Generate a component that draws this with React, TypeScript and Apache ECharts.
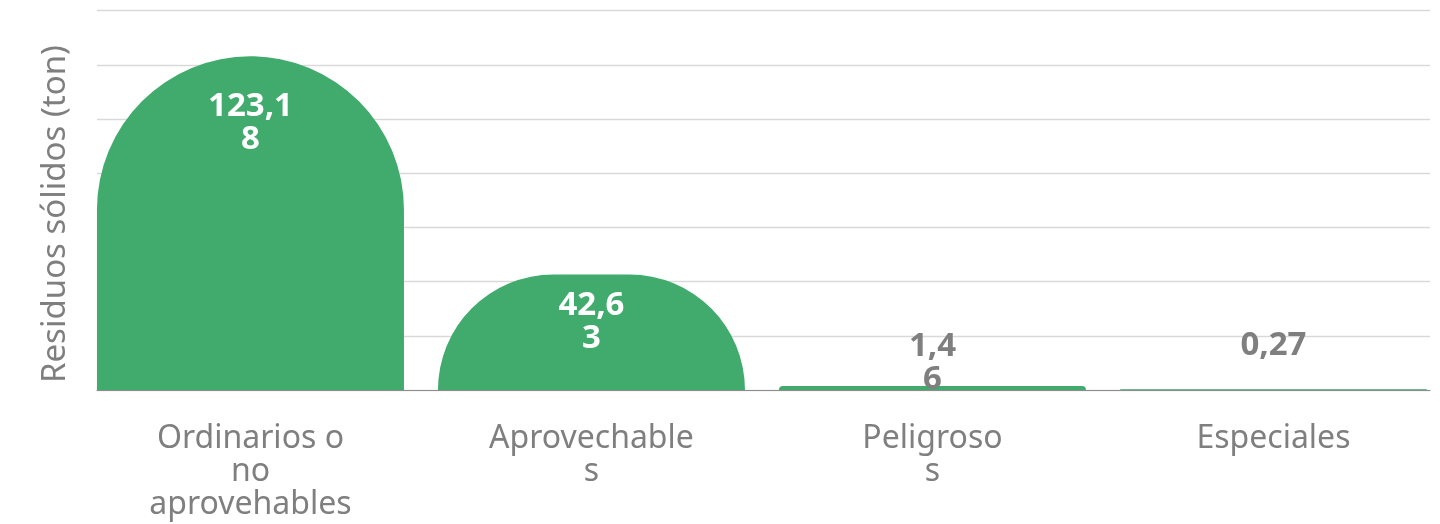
import React, { useEffect, useRef } from "react";
import * as echarts from "echarts";

// Chart data
const categories = [
  "Ordinarios o\nno\naprovehables",
  "Aprovechable\ns",
  "Peligroso\ns",
  "Especiales",
];
const values = [123.18, 42.63, 1.46, 0.27];
// Number of characters kept on the first line of each value label
const labelBreakAt = [5, 4, 3, 0];
const yMin = 0;
const yMax = 140;
const yInterval = 20;
const yTitle = "Residuos sólidos (ton)";

const GREEN = "#41AB6D";
const GREY = "#7F7F7F";
const FONT = "'Noto Sans', sans-serif";

// Vertical placement of each value label relative to the top of its bar
const labelOffsetY = [31, 11, -59, -63];
const labelColor = ["#ffffff", "#ffffff", GREY, GREY];

function formatValue(v: number, i: number): string {
  const s = String(v).replace(".", ",");
  const n = labelBreakAt[i];
  if (!n || n >= s.length) return s;
  return s.slice(0, n) + "\n" + s.slice(n);
}

export default function App() {
  const ref = useRef<HTMLDivElement>(null);

  useEffect(() => {
    if (!ref.current) return;
    const chart = echarts.init(ref.current, undefined, { renderer: "svg" });
    const positions = categories.map((_, i) => i);
    chart.setOption({
      animation: false,
      grid: { left: 97, right: 10, top: 10.7, bottom: 134 },
      xAxis: {
        // categories sit at integer positions; the bars touch the plot edges
        type: "value",
        min: -0.45,
        max: 3.459,
        axisLine: { onZero: true, lineStyle: { color: "#8C8C8C", width: 1 } },
        axisTick: { show: false },
        splitLine: { show: false },
        axisLabel: {
          customValues: positions,
          formatter: (v: number) => categories[Math.round(v)] ?? "",
          color: GREY,
          fontSize: 32,
          lineHeight: 33,
          fontFamily: FONT,
          margin: 29,
          showMinLabel: true,
          showMaxLabel: true,
        },
      },
      yAxis: {
        type: "value",
        min: yMin,
        max: yMax,
        interval: yInterval,
        axisLabel: { show: false },
        axisLine: { show: false },
        axisTick: { show: false },
        splitLine: { lineStyle: { color: "#D9D9D9", width: 1.3 } },
      },
      series: [
        {
          type: "bar",
          barWidth: 307,
          itemStyle: { color: GREEN, borderRadius: [154, 154, 0, 0] },
          label: {
            show: true,
            align: "center",
            verticalAlign: "top",
            fontSize: 33,
            fontWeight: "bold",
            lineHeight: 33,
            fontFamily: FONT,
            formatter: (p: any) => formatValue(p.value[1], p.dataIndex),
          },
          data: values.map((v, i) => ({
            value: [positions[i], v],
            label: {
              position: ["50%", labelOffsetY[i]],
              color: labelColor[i],
            },
          })),
        },
      ],
      graphic: [
        {
          type: "text",
          x: 52,
          y: 214,
          rotation: Math.PI / 2,
          style: {
            text: yTitle,
            fill: GREY,
            fontSize: 33,
            fontFamily: FONT,
            align: "center",
            verticalAlign: "middle",
          },
        },
      ],
    });
    return () => chart.dispose();
  }, []);

  return (
    <div
      ref={ref}
      style={{ position: "fixed", left: 0, top: 0, width: 1440, height: 524 }}
    />
  );
}
